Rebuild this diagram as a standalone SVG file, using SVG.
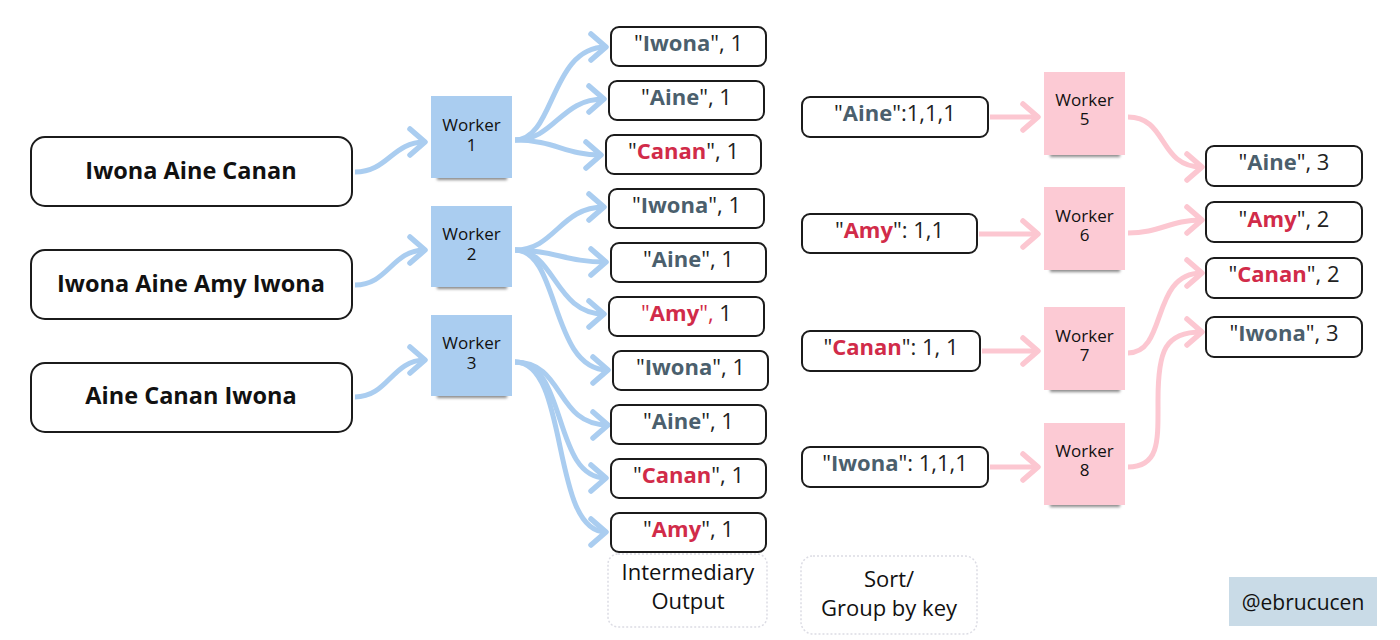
<svg xmlns="http://www.w3.org/2000/svg" width="1400" height="640" viewBox="0 0 1400 640">
<style>
.box{fill:#fff;stroke:#1b1b1b;stroke-width:2}
.t{font-family:"Open Sans","Noto Sans",sans-serif;font-size:22px;fill:#222;text-anchor:middle}
.in{font-size:23.5px;font-weight:700;fill:#111}
.b{font-weight:700}
.s{fill:#4b5f6d}
.r{fill:#d12b49}
.bl{fill:none;stroke:#aacdf0;stroke-width:5}
.pk{fill:none;stroke:#fcc7d1;stroke-width:5}
.wb{fill:#aacdf0}
.wp{fill:#fccad4}
.sh{fill:#8a8a8a;filter:url(#blur)}
.wt{font-size:17px;fill:#111}
.lbl{fill:none;stroke:#dcdce4;stroke-width:1.5;stroke-dasharray:2 2}
.lt{font-size:22px;fill:#111}
</style>
<defs>
<filter id="blur" x="-20%" y="-100%" width="140%" height="300%"><feGaussianBlur stdDeviation="1.5"/></filter>
<marker id="ab" markerUnits="userSpaceOnUse" markerWidth="40" markerHeight="40" viewBox="-20 -20 40 40" refX="0" refY="0" orient="auto" overflow="visible">
<path d="M-15,-13 L0,0 L-15,13" fill="none" stroke="#aacdf0" stroke-width="5.5" stroke-linecap="round" stroke-linejoin="round"/>
</marker>
<marker id="ap" markerUnits="userSpaceOnUse" markerWidth="40" markerHeight="40" viewBox="-20 -20 40 40" refX="0" refY="0" orient="auto" overflow="visible">
<path d="M-15,-13 L0,0 L-15,13" fill="none" stroke="#fcc7d1" stroke-width="5.5" stroke-linecap="round" stroke-linejoin="round"/>
</marker>
</defs>
<rect width="1400" height="640" fill="#fff"/>

<g id="connectors">
<path class="bl" marker-end="url(#ab)" d="M355,172 C388,172 392,142 425,142"/>
<path class="bl" marker-end="url(#ab)" d="M355,285 C388,285 392,250 425,250"/>
<path class="bl" marker-end="url(#ab)" d="M355,397 C388,397 392,360 425,360"/>

<path class="bl" marker-end="url(#ab)" d="M515,140 C555,140 550,47 606,47"/>
<path class="bl" marker-end="url(#ab)" d="M515,140 C555,140 560,99 604,99"/>
<path class="bl" marker-end="url(#ab)" d="M515,140 C555,140 565,155 601,155"/>

<path class="bl" marker-end="url(#ab)" d="M515,250 C555,250 560,207 604,207"/>
<path class="bl" marker-end="url(#ab)" d="M515,250 C555,250 565,262 606,262"/>
<path class="bl" marker-end="url(#ab)" d="M515,250 C555,250 555,314 604,314"/>
<path class="bl" marker-end="url(#ab)" d="M515,250 C560,250 550,370 608,370"/>

<path class="bl" marker-end="url(#ab)" d="M515,362 C565,362 555,425 608,425"/>
<path class="bl" marker-end="url(#ab)" d="M515,362 C568,362 552,478 606,478"/>
<path class="bl" marker-end="url(#ab)" d="M515,362 C570,362 550,532 606,532"/>

<path class="pk" marker-end="url(#ap)" d="M990,117 L1038,117"/>
<path class="pk" marker-end="url(#ap)" d="M979,234 L1038,234"/>
<path class="pk" marker-end="url(#ap)" d="M982,351 L1038,351"/>
<path class="pk" marker-end="url(#ap)" d="M990,467 L1038,467"/>

<path class="pk" marker-end="url(#ap)" d="M1128,117 C1168,117 1158,167 1202,167"/>
<path class="pk" marker-end="url(#ap)" d="M1128,233 C1160,233 1170,220 1202,220"/>
<path class="pk" marker-end="url(#ap)" d="M1128,353 C1168,353 1150,273 1202,273"/>
<path class="pk" marker-end="url(#ap)" d="M1128,467 C1160,467 1158,440 1158,400 C1158,350 1165,332 1202,332"/>
</g>

<g id="input1"><rect class="box" x="31" y="137" width="321" height="69" rx="14"/><text class="t in" x="191" y="179">Iwona Aine Canan</text></g>
<g id="input2"><rect class="box" x="31" y="250" width="321" height="69" rx="14"/><text class="t in" x="191" y="292">Iwona Aine Amy Iwona</text></g>
<g id="input3"><rect class="box" x="31" y="363" width="321" height="69" rx="14"/><text class="t in" x="191" y="404">Aine Canan Iwona</text></g>

<g id="worker1"><rect class="sh" x="437" y="172" width="70" height="8"/><rect class="wb" x="431" y="96" width="81" height="82"/><text class="t wt" x="471.5" y="131">Worker</text><text class="t wt" x="471.5" y="151">1</text></g>
<g id="worker2"><rect class="sh" x="437" y="281" width="70" height="8"/><rect class="wb" x="431" y="206" width="81" height="81"/><text class="t wt" x="471.5" y="240">Worker</text><text class="t wt" x="471.5" y="260">2</text></g>
<g id="worker3"><rect class="sh" x="437" y="390" width="70" height="8"/><rect class="wb" x="431" y="315" width="81" height="81"/><text class="t wt" x="471.5" y="349">Worker</text><text class="t wt" x="471.5" y="369">3</text></g>

<g id="m1"><rect class="box" x="611" y="27" width="155" height="39" rx="8"/><text class="t" x="688.5" y="51">"<tspan class="b s">Iwona</tspan>", 1</text></g>
<g id="m2"><rect class="box" x="609" y="81" width="155" height="39" rx="8"/><text class="t" x="686.5" y="105">"<tspan class="b s">Aine</tspan>", 1</text></g>
<g id="m3"><rect class="box" x="606" y="135" width="155" height="39" rx="8"/><text class="t" x="683.5" y="159">"<tspan class="b r">Canan</tspan>", 1</text></g>
<g id="m4"><rect class="box" x="609" y="189" width="155" height="39" rx="8"/><text class="t" x="686.5" y="213">"<tspan class="b s">Iwona</tspan>", 1</text></g>
<g id="m5"><rect class="box" x="611" y="243" width="155" height="39" rx="8"/><text class="t" x="688.5" y="267">"<tspan class="b s">Aine</tspan>", 1</text></g>
<g id="m6"><rect class="box" x="609" y="297" width="155" height="39" rx="8"/><text class="t" x="686.5" y="321"><tspan class="r">"</tspan><tspan class="b r">Amy</tspan><tspan class="r">",</tspan> 1</text></g>
<g id="m7"><rect class="box" x="613" y="351" width="155" height="39" rx="8"/><text class="t" x="690.5" y="375">"<tspan class="b s">Iwona</tspan>", 1</text></g>
<g id="m8"><rect class="box" x="611" y="405" width="155" height="39" rx="8"/><text class="t" x="688.5" y="429">"<tspan class="b s">Aine</tspan>", 1</text></g>
<g id="m9"><rect class="box" x="611" y="459" width="155" height="39" rx="8"/><text class="t" x="688.5" y="483">"<tspan class="b r">Canan</tspan>", 1</text></g>
<g id="m10"><rect class="box" x="611" y="513" width="155" height="39" rx="8"/><text class="t" x="688.5" y="537">"<tspan class="b r">Amy</tspan>", 1</text></g>

<g id="label-intermediary"><rect class="lbl" x="608" y="554" width="159" height="73" rx="10"/><text class="t lt" x="688" y="580">Intermediary</text><text class="t lt" x="688" y="609">Output</text></g>

<g id="g1"><rect class="box" x="802" y="97" width="186" height="40" rx="8"/><text class="t" x="895" y="121">"<tspan class="b s">Aine</tspan>":1,1,1</text></g>
<g id="g2"><rect class="box" x="802" y="214" width="175" height="39" rx="8"/><text class="t" x="889.5" y="238">"<tspan class="b r">Amy</tspan>": 1,1</text></g>
<g id="g3"><rect class="box" x="802" y="331" width="178" height="40" rx="8"/><text class="t" x="891" y="355">"<tspan class="b r">Canan</tspan>": 1, 1</text></g>
<g id="g4"><rect class="box" x="802" y="447" width="186" height="40" rx="8"/><text class="t" x="895" y="471">"<tspan class="b s">Iwona</tspan>": 1,1,1</text></g>

<g id="label-sort"><rect class="lbl" x="801" y="556" width="176" height="78" rx="12"/><text class="t lt" x="889" y="587">Sort/</text><text class="t lt" x="889" y="616">Group by key</text></g>

<g id="worker5"><rect class="sh" x="1050" y="149" width="70" height="8"/><rect class="wp" x="1044" y="72" width="81" height="83"/><text class="t wt" x="1084.5" y="106">Worker</text><text class="t wt" x="1084.5" y="125">5</text></g>
<g id="worker6"><rect class="sh" x="1050" y="264" width="70" height="8"/><rect class="wp" x="1044" y="187" width="81" height="83"/><text class="t wt" x="1084.5" y="222">Worker</text><text class="t wt" x="1084.5" y="241">6</text></g>
<g id="worker7"><rect class="sh" x="1050" y="384" width="70" height="8"/><rect class="wp" x="1044" y="307" width="81" height="83"/><text class="t wt" x="1084.5" y="342">Worker</text><text class="t wt" x="1084.5" y="361">7</text></g>
<g id="worker8"><rect class="sh" x="1050" y="499" width="70" height="8"/><rect class="wp" x="1044" y="423" width="81" height="82"/><text class="t wt" x="1084.5" y="457">Worker</text><text class="t wt" x="1084.5" y="476">8</text></g>

<g id="f1"><rect class="box" x="1206" y="146" width="156" height="40" rx="8"/><text class="t" x="1284" y="170">"<tspan class="b s">Aine</tspan>", 3</text></g>
<g id="f2"><rect class="box" x="1206" y="202" width="156" height="40" rx="8"/><text class="t" x="1284" y="227">"<tspan class="b r">Amy</tspan>", 2</text></g>
<g id="f3"><rect class="box" x="1206" y="258" width="156" height="40" rx="8"/><text class="t" x="1284" y="282">"<tspan class="b r">Canan</tspan>", 2</text></g>
<g id="f4"><rect class="box" x="1206" y="317" width="156" height="40" rx="8"/><text class="t" x="1284" y="341">"<tspan class="b s">Iwona</tspan>", 3</text></g>

<g id="credit"><rect x="1229" y="577" width="148" height="49" fill="#c9dbe7"/><text class="t" x="1303" y="610" style="font-size:21px;fill:#111">@ebrucucen</text></g>
</svg>
